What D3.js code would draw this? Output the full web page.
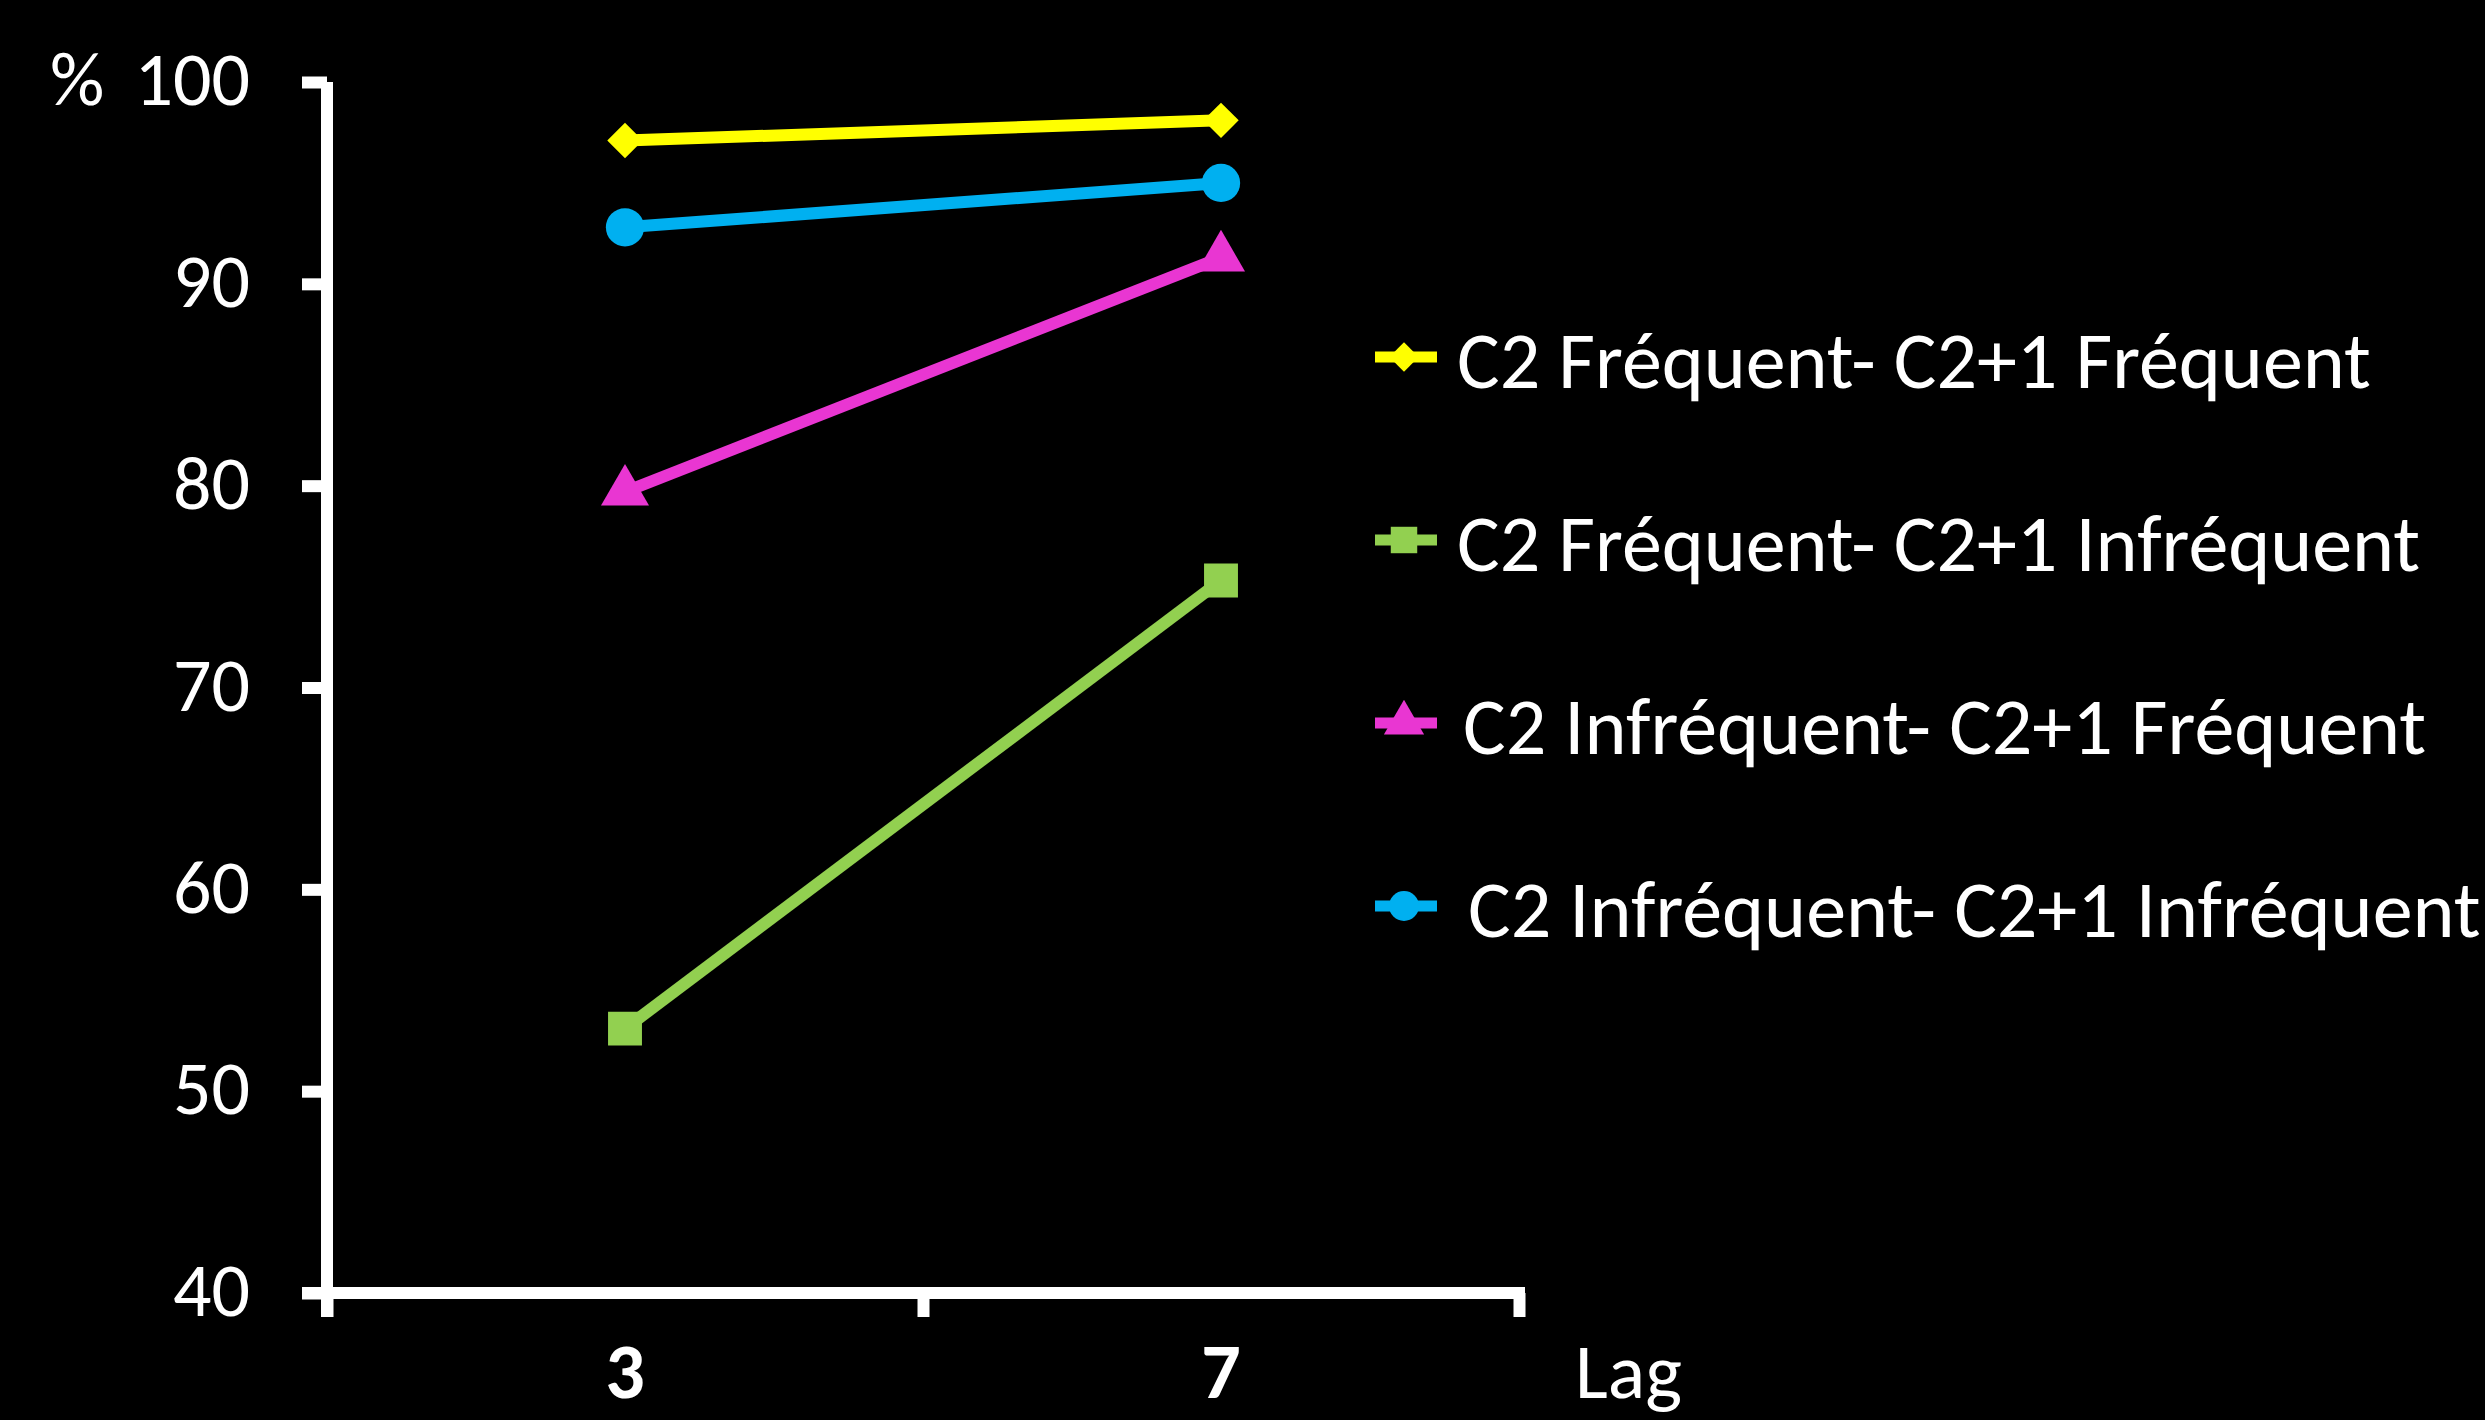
<!DOCTYPE html>
<html>
<head>
<meta charset="utf-8">
<script src="https://cdn.jsdelivr.net/npm/d3@7"></script>
<style>
  html, body { margin: 0; padding: 0; background: #000; }
  svg { display: block; }
  text { font-family: Carlito, Calibri, "Open Sans", "Noto Sans", sans-serif; fill: #fff; }
</style>
</head>
<body>
<svg id="chart" width="2485" height="1420"></svg>
<script>
const categories = ["3", "7"];
const seriesNames = [
  "C2 Fréquent- C2+1 Fréquent",
  "C2 Fréquent- C2+1 Infréquent",
  "C2 Infréquent- C2+1 Fréquent",
  "C2 Infréquent- C2+1 Infréquent"
];
const freqFreq = [97.1, 98.1];
const freqInfreq = [53.1, 75.3];
const infreqFreq = [79.7, 91.3];
const infreqInfreq = [92.8, 95.0];
const yTicks = [40, 50, 60, 70, 80, 90, 100];
const yUnit = "%";
const xTitle = "Lag";

const seriesValues = [freqFreq, freqInfreq, infreqFreq, infreqInfreq];
const colors = ["#FFFF00", "#92D050", "#E936D2", "#00B0F0"];
const shapes = [d3.symbolDiamond2, d3.symbolSquare, d3.symbolTriangle, d3.symbolCircle];

const svg = d3.select("#chart");
const x = d3.scaleBand().domain(categories).range([327, 1519]);
const y = d3.scaleLinear().domain([40, 100]).range([1293, 82]);

// Y axis
const yAxis = svg.append("g").attr("transform", "translate(327,0)")
  .call(d3.axisLeft(y).tickValues(yTicks).tickSize(25).tickSizeOuter(0).tickPadding(52));
yAxis.select(".domain").attr("stroke", "#fff").attr("stroke-width", 12)
  .attr("d", `M0,${y(100)}V${1317}`);
yAxis.selectAll(".tick line").attr("stroke", "#fff").attr("stroke-width", 12);
yAxis.selectAll(".tick text").attr("fill", "#fff").attr("font-size", 76)
  .attr("font-family", null).attr("dy", "0.3em");

// % label beside top tick
svg.append("text").attr("x", 50).attr("y", y(100)).attr("dy", "0.3em")
  .attr("font-size", 76).text(yUnit);

// X axis with boundary ticks
const xb = d3.scaleLinear().domain([0, categories.length]).range(x.range());
const xAxis = svg.append("g").attr("transform", `translate(0,${y(40)})`)
  .call(d3.axisBottom(xb).ticks(categories.length).tickSize(24).tickSizeOuter(0).tickFormat(""));
xAxis.select(".domain").attr("stroke", "#fff").attr("stroke-width", 12)
  .attr("d", `M302,0H${xb(categories.length) + 6}`);
xAxis.selectAll(".tick line").attr("stroke", "#fff").attr("stroke-width", 12);

// category labels
svg.append("g").selectAll("text").data(categories).join("text")
  .attr("x", d => x(d) + x.bandwidth() / 2)
  .attr("y", 1398)
  .attr("text-anchor", "middle")
  .attr("font-size", 78).attr("font-weight", "bold")
  .text(d => d);

svg.append("text").attr("x", 1575).attr("y", 1398).attr("font-size", 78).text(xTitle);

// Lines and markers
const line = d3.line().x((d, i) => x(categories[i]) + x.bandwidth() / 2).y(d => y(d));
seriesValues.forEach((vals, s) => {
  const g = svg.append("g");
  g.append("path").attr("d", line(vals)).attr("fill", "none")
    .attr("stroke", colors[s]).attr("stroke-width", 12);
  g.selectAll("path.m").data(vals).join("path").attr("class", "m")
    .attr("transform", (d, i) => `translate(${x(categories[i]) + x.bandwidth() / 2},${y(d)})`)
    .attr("d", d3.symbol().type(shapes[s]).size(s === 2 ? 1000 : (s === 0 ? 800 : 1150)))
    .attr("fill", colors[s]);
});

// Legend
const legendY = d3.scaleLinear().domain([0, 3]).range([357, 906]);
const lg = svg.append("g");
seriesNames.forEach((name, s) => {
  const cy = legendY(s);
  lg.append("line").attr("x1", 1375).attr("x2", 1437).attr("y1", cy).attr("y2", cy)
    .attr("stroke", colors[s]).attr("stroke-width", 11);
  lg.append("path").attr("transform", `translate(1404,${cy})`)
    .attr("d", d3.symbol().type(shapes[s]).size(s === 0 ? 550 : 700))
    .attr("fill", colors[s]);
  lg.append("text").attr("x", 1457 + (s >= 2 ? 6 + (s - 2) * 5 : 0)).attr("y", cy + 31)
    .attr("font-size", 80).text(name);
});
</script>
</body>
</html>
